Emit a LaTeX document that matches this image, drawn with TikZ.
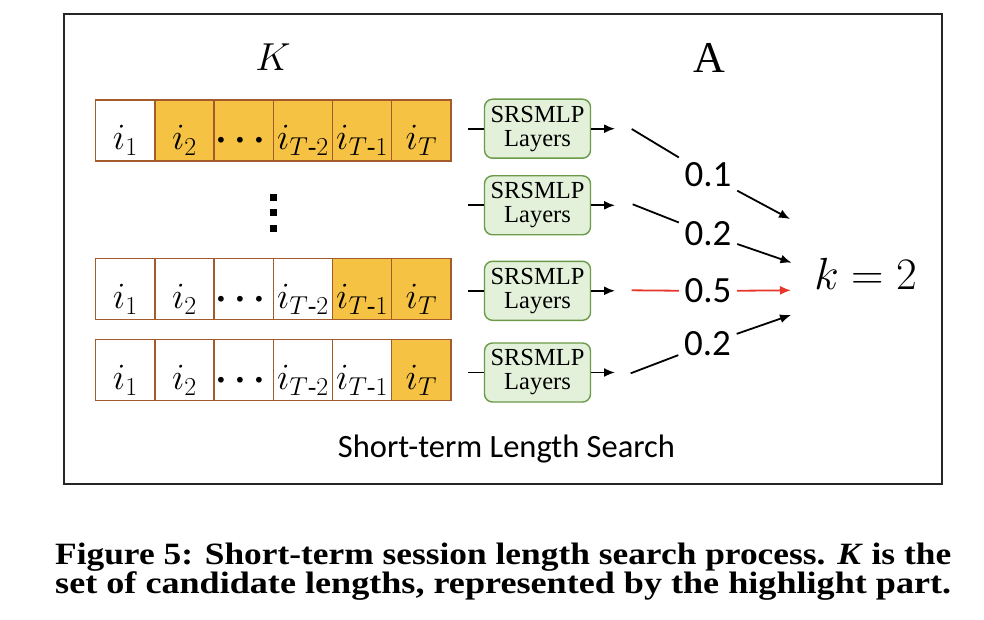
\RequirePackage{fix-cm}
\documentclass[tikz,border=0pt]{standalone}
\usepackage{amsmath}
\usepackage{graphicx}
\usepackage{fontspec}
\setmainfont{Liberation Serif}
\newfontfamily\calib{Carlito}
\usetikzlibrary{arrows.meta}
\definecolor{cellor}{HTML}{F5C243}
\definecolor{cellbd}{HTML}{A35B2C}
\definecolor{boxfill}{HTML}{E3F0DA}
\definecolor{boxbd}{HTML}{6B9A48}
\definecolor{hired}{HTML}{E8362C}
\newcommand{\mydots}{$\boldsymbol{\cdots}$}
\begin{document}
\begin{tikzpicture}[x=1pt,y=-1pt,
 cell/.style={draw=cellbd, line width=1.4pt, minimum width=59.2pt, minimum height=61pt, inner sep=0pt,
   text height=42pt, text depth=3pt, font=\fontsize{37}{40}\selectfont, fill=white},
 hot/.style={cell, fill=cellor},
 mlp/.style={draw=boxbd, fill=boxfill, line width=1.4pt, rounded corners=8pt, minimum width=106pt,
   minimum height=59pt, inner sep=0pt, align=center, font=\fontsize{24.5}{24}\selectfont},
 wt/.style={font=\calib\fontsize{37}{40}\selectfont, minimum width=58pt, minimum height=38pt, inner sep=0pt},
 conn/.style={line width=1.8pt},
 arr/.style={conn, -{Latex[length=11pt,width=9pt]}},
 sq/.style={fill=black, minimum size=7pt, inner sep=0pt},
 capt/.style={anchor=base west, inner sep=0pt, font=\bfseries\fontsize{31}{34}\selectfont},
]
\useasboundingbox (0,0) rectangle (984,620);
\fill[white] (0,0) rectangle (984,620);
\node[draw=black!85, line width=1.6pt, minimum width=878pt, minimum height=470pt, inner sep=0pt] (frame) at (503,249) {};

\node[font=\fontsize{39}{40}\selectfont] (Klab) at (273,57.5) {$K$};
\node[font=\fontsize{44}{48}\selectfont] (Alab) at (709.5,57.5) {A};

% row 1
\node[cell] (r1c1) at (125.3,130.5) {$i_1$};
\node[hot]  (r1c2) at (184.5,130.5) {$i_2$};
\node[hot]  (r1c3) at (243.7,130.5) {\mydots};
\node[hot]  (r1c4) at (302.9,130.5) {$i_{T\textrm{-}2}$};
\node[hot]  (r1c5) at (362.1,130.5) {$i_{T\textrm{-}1}$};
\node[hot]  (r1c6) at (421.3,130.5) {$i_{T}$};
% dots
\node[sq] (d1) at (273.3,197.7) {};
\node[sq] (d2) at (273.3,213) {};
\node[sq] (d3) at (273.3,228.3) {};
% row 3
\node[cell] (r3c1) at (125.3,289) {$i_1$};
\node[cell] (r3c2) at (184.5,289) {$i_2$};
\node[cell] (r3c3) at (243.7,289) {\mydots};
\node[cell] (r3c4) at (302.9,289) {$i_{T\textrm{-}2}$};
\node[hot]  (r3c5) at (362.1,289) {$i_{T\textrm{-}1}$};
\node[hot]  (r3c6) at (421.3,289) {$i_{T}$};
% row 4
\node[cell] (r4c1) at (125.3,370) {$i_1$};
\node[cell] (r4c2) at (184.5,370) {$i_2$};
\node[cell] (r4c3) at (243.7,370) {\mydots};
\node[cell] (r4c4) at (302.9,370) {$i_{T\textrm{-}2}$};
\node[cell] (r4c5) at (362.1,370) {$i_{T\textrm{-}1}$};
\node[hot]  (r4c6) at (421.3,370) {$i_{T}$};

% SRSMLP boxes
\node[mlp] (m1) at (537.5,128.7) {SRSMLP\\Layers};
\node[mlp] (m2) at (537.5,205.3) {SRSMLP\\Layers};
\node[mlp] (m3) at (537.5,290.8) {SRSMLP\\Layers};
\node[mlp] (m4) at (537.5,372.5) {SRSMLP\\Layers};

\foreach \i/\y in {1/128.7,2/205.3,3/290.8,4/372.5}{
  \coordinate (in\i) at (468,\y);
  \coordinate (o\i) at (615,\y);
  \draw[conn] (in\i) -- (m\i.west);
  \draw[arr] (m\i.east) -- (o\i);
}

% weights
\coordinate (s1) at (631.7,129);
\coordinate (s2) at (632.7,204.3);
\coordinate (s3) at (631.7,290.3);
\coordinate (s4) at (630.7,373.3);
\coordinate (e1) at (790,219);
\coordinate (e2) at (791.5,262.7);
\coordinate (e3) at (791,290.3);
\coordinate (e4) at (791,315);
\node[wt] (w1) at (708,175) {0.1};
\node[wt] (w2) at (708,234) {0.2};
\node[wt] (w3) at (708,291) {0.5};
\node[wt] (w4) at (707.5,344) {0.2};
\draw[conn] (s1) -- (w1);
\draw[arr] (w1) -- (e1);
\draw[conn] (s2) -- (w2);
\draw[arr] (w2) -- (e2);
\draw[conn, hired] (s3) -- (w3);
\draw[arr, hired] (w3) -- (e3);
\draw[conn] (s4) -- (w4);
\draw[arr] (w4) -- (e4);

\node[font=\fontsize{45}{50}\selectfont, anchor=base] (k) at (865.5,289) {$k=2$};

\node[font=\calib\fontsize{32.5}{34}\selectfont, anchor=base] (title) at (506.5,457) {Short-term Length Search};

\node[capt] (cap1) at (55,564)
  {\resizebox{896pt}{\height}{Figure 5: Short-term session length search process. \textit{K} is the}};
\node[capt] (cap2) at (55,593)
  {\resizebox{896pt}{\height}{set of candidate lengths, represented by the highlight part.}};
\end{tikzpicture}
\end{document}
